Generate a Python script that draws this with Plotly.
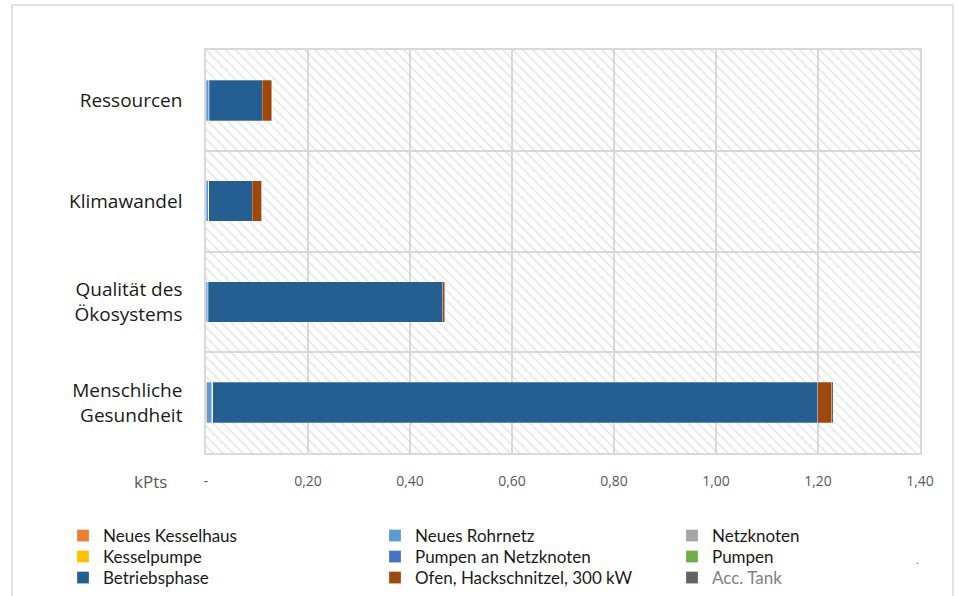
import plotly.graph_objects as go

categories = ["Menschliche<br>Gesundheit", "Qualität des<br>Ökosystems", "Klimawandel", "Ressourcen"]

series_names = ["Neues Kesselhaus", "Neues Rohrnetz", "Netzknoten",
                "Kesselpumpe", "Pumpen an Netzknoten", "Pumpen",
                "Betriebsphase", "Ofen, Hackschnitzel, 300 kW",
                "<span style='color:#7f7f7f'>Acc. Tank</span>"]
series_colors = ["#ED7D31", "#5B9BD5", "#A5A5A5",
                 "#FFC000", "#4472C4", "#70AD47",
                 "#255E91", "#9E480E", "#636363"]

neues_kesselhaus = [0.001, 0.0005, 0.0003, 0.0003]
neues_rohrnetz = [0.010, 0.003, 0.004, 0.005]
netzknoten = [0.002, 0.0005, 0.0005, 0.0008]
kesselpumpe = [0.0002, 0.0001, 0.0001, 0.0001]
pumpen_an_netzknoten = [0.0002, 0.0001, 0.0001, 0.0001]
pumpen = [0.0002, 0.0001, 0.0001, 0.0001]
betriebsphase = [1.186, 0.460, 0.086, 0.104]
ofen = [0.027, 0.004, 0.018, 0.019]
acc_tank = [0.003, 0.001, 0.0005, 0.0005]

series_values = [neues_kesselhaus, neues_rohrnetz, netzknoten, kesselpumpe,
                 pumpen_an_netzknoten, pumpen, betriebsphase, ofen, acc_tank]

tick_vals = [0, 0.2, 0.4, 0.6, 0.8, 1.0, 1.2, 1.4]
tick_text = ["-", "0,20", "0,40", "0,60", "0,80", "1,00", "1,20", "1,40"]
axis_max = 1.4

FONT = "Open Sans"
LEGEND_FONT = "Lato"

PW = 714.0
PH = 403.0


def px_x(p):
    return (p - 206) / PW


def px_y(p):
    return (453 - p) / PH


# legend grid: 3 columns x 3 rows (text left edge / row top, in pixels)
legend_col_text_x = [103, 415, 712]
legend_row_top_y = [518, 539, 560]

fig = go.Figure()

# hatched plot-area background (one band per category)
fig.add_trace(go.Bar(
    y=categories, x=[axis_max] * len(categories), orientation="h", width=1,
    marker=dict(color="rgba(0,0,0,0)", line=dict(width=0),
                pattern=dict(shape="\\", fgcolor="#cfcfcf", bgcolor="rgba(0,0,0,0)",
                             size=7, solidity=0.25)),
    showlegend=False, hoverinfo="skip", xaxis="x", yaxis="y",
))

legend_layouts = {}
for i, (name, color, vals) in enumerate(zip(series_names, series_colors, series_values)):
    leg = "legend" if i == 0 else f"legend{i + 1}"
    fig.add_trace(go.Bar(
        y=categories, x=vals, orientation="h", name=name, width=0.4,
        marker=dict(color=color, line=dict(width=0.6, color="rgba(255,255,255,0.45)")),
        xaxis="x2", yaxis="y2", legend=leg,
    ))
    row, col = divmod(i, 3)
    legend_layouts[leg] = dict(
        orientation="v", xanchor="left", yanchor="top",
        x=px_x(legend_col_text_x[col] - 40), y=px_y(legend_row_top_y[row]),
        itemwidth=30, font=dict(family=LEGEND_FONT, size=17, color="#1a1a1a"),
        bgcolor="rgba(0,0,0,0)", borderwidth=0,
    )

fig.update_layout(
    width=958, height=596,
    barmode="stack",
    paper_bgcolor="white", plot_bgcolor="white",
    margin=dict(l=206, r=38, t=50, b=143, autoexpand=False),
    font=dict(family=FONT, size=16, color="#262626"),
    xaxis=dict(range=[0, axis_max], tickvals=tick_vals, ticktext=tick_text,
               showgrid=True, gridcolor="#d9d9d9", gridwidth=1.5,
               zeroline=False, showline=True, linecolor="#d9d9d9", linewidth=1.5, mirror=True,
               ticks="", ticklabelstandoff=14,
               tickfont=dict(family=FONT, size=14, color="#595959")),
    yaxis=dict(type="category", categoryorder="array", categoryarray=categories,
               tickson="boundaries", showgrid=True, gridcolor="#d9d9d9", gridwidth=1.5,
               showline=True, linecolor="#d9d9d9", linewidth=1.5, mirror=True,
               ticks="", ticklabelstandoff=18,
               tickfont=dict(family=FONT, size=19, color="#1a1a1a")),
    xaxis2=dict(overlaying="x", range=[0, axis_max], visible=False),
    yaxis2=dict(overlaying="y", type="category", categoryorder="array",
                categoryarray=categories, visible=False),
    shapes=[dict(type="rect", xref="paper", yref="paper",
                 x0=px_x(12), x1=px_x(953), y0=px_y(620), y1=px_y(5),
                 line=dict(color="#d9d9d9", width=1.5), fillcolor="rgba(0,0,0,0)", layer="below")],
    annotations=[dict(text="kPts", xref="paper", yref="paper",
                      x=px_x(150), y=px_y(482), showarrow=False,
                      xanchor="center", yanchor="middle",
                      font=dict(family=FONT, size=17, color="#595959")),
                 dict(text=".", xref="paper", yref="paper",
                      x=px_x(917), y=px_y(560), showarrow=False,
                      xanchor="center", yanchor="middle",
                      font=dict(family=FONT, size=10, color="#595959"))],
)
fig.update_layout(**legend_layouts)

fig.write_html("out.html")
